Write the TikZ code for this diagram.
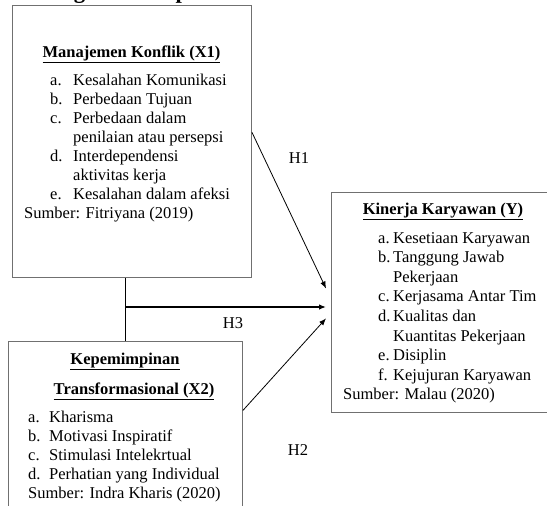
\documentclass[tikz,border=0pt]{standalone}
\usepackage{fontspec}
\setmainfont{Liberation Serif}
\usepackage{array}
\usepackage{tikz}
\usetikzlibrary{positioning, arrows, arrows.meta}
\definecolor{boxgray}{RGB}{112,112,112}
\newcommand{\txtsize}{\fontsize{16.5}{19}\selectfont}
\tikzstyle{arrow} = [line width=0.8pt,->,>={Latex[length=7pt,width=5.5pt]}]
\tikzstyle{link} = [line width=1.3pt]
\tikzstyle{box} = [draw=boxgray,line width=0.9pt,rectangle,anchor=north west,inner sep=0pt]
\tikzstyle{head} = [font=\txtsize\bfseries,anchor=base,inner sep=0pt]
\tikzstyle{list} = [anchor=base west,inner sep=0pt]
\tikzstyle{hyp} = [inner sep=0pt]

\begin{document}
\begin{tikzpicture}[x=1pt,y=1pt,font=\txtsize]
    \clip (0,0) rectangle (547,-506);
    \node[font=\fontsize{22.7}{26}\selectfont\bfseries, anchor=base west, inner sep=0pt] (title) at (12,1.5) {Kerangka Konseptual};

    % variabel X1
    \node[box, minimum width=239pt, minimum height=272.5pt] (x1) at (12,-4.5) {};
    \node[head] (x1head) at (131.5,-57) {\underline{Manajemen Konflik (X1)}};
    \node[list] (x1list) at (24,-85) {\begin{tabular}[t]{@{\hspace{26pt}}>{\raggedright\arraybackslash}p{23pt}@{}l@{}}
        a. & Kesalahan Komunikasi\\
        b. & Perbedaan Tujuan\\
        c. & Perbedaan dalam\\
           & penilaian atau persepsi\\
        d. & Interdependensi\\
           & aktivitas kerja\\
        e. & Kesalahan dalam afeksi\\
        \multicolumn{2}{@{}l@{}}{Sumber: Fitriyana (2019)}
    \end{tabular}};

    % variabel Y
    \node[box, minimum width=224pt, minimum height=220pt] (ky) at (331,-192) {};
    \node[head] (kyhead) at (443,-214) {\underline{Kinerja Karyawan (Y)}};
    \node[list, font=\fontsize{16.5}{19.6}\selectfont] (kylist) at (343,-243) {\begin{tabular}[t]{@{\hspace{35pt}}>{\raggedright\arraybackslash}p{15pt}@{}l@{}}
        a. & Kesetiaan Karyawan\\
        b. & Tanggung Jawab\\
           & Pekerjaan\\
        c. & Kerjasama Antar Tim\\
        d. & Kualitas dan\\
           & Kuantitas Pekerjaan\\
        e. & Disiplin\\
        f. & Kejujuran Karyawan\\
        \multicolumn{2}{@{}l@{}}{Sumber: Malau (2020)}
    \end{tabular}};

    % variabel X2
    \node[box, minimum width=234pt, minimum height=180pt] (x2) at (8,-341) {};
    \node[head] (x2head) at (125,-364) {\underline{Kepemimpinan}};
    \node[head] (x2head2) at (134,-394) {\underline{Transformasional (X2)}};
    \node[list] (x2list) at (28,-422) {\begin{tabular}[t]{@{}>{\raggedright\arraybackslash}p{21pt}@{}l@{}}
        a. & Kharisma\\
        b. & Motivasi Inspiratif\\
        c. & Stimulasi Intelekrtual\\
        d. & Perhatian yang Individual\\
        \multicolumn{2}{@{}l@{}}{Sumber: Indra Kharis (2020)}
    \end{tabular}};

    % hipotesis
    \coordinate (jn) at (x2.north |- 0,-307);
    \draw[link] (x2.north) -- (x2.north |- x1.south);
    \draw[arrow, link, shorten >=5pt] (jn) -- (jn -| ky.west);
    \draw[arrow] ([yshift=9pt]x1.east) -- ([shift={(-5pt,14pt)}]ky.west);
    \draw[arrow] ([yshift=21pt]x2.east) -- ([shift={(-5pt,-16pt)}]ky.west);

    \node[hyp] (h1) at (299,-158) {H1};
    \node[hyp] (h2) at (298,-450) {H2};
    \node[hyp] (h3) at (233,-323) {H3};
\end{tikzpicture}
\end{document}
